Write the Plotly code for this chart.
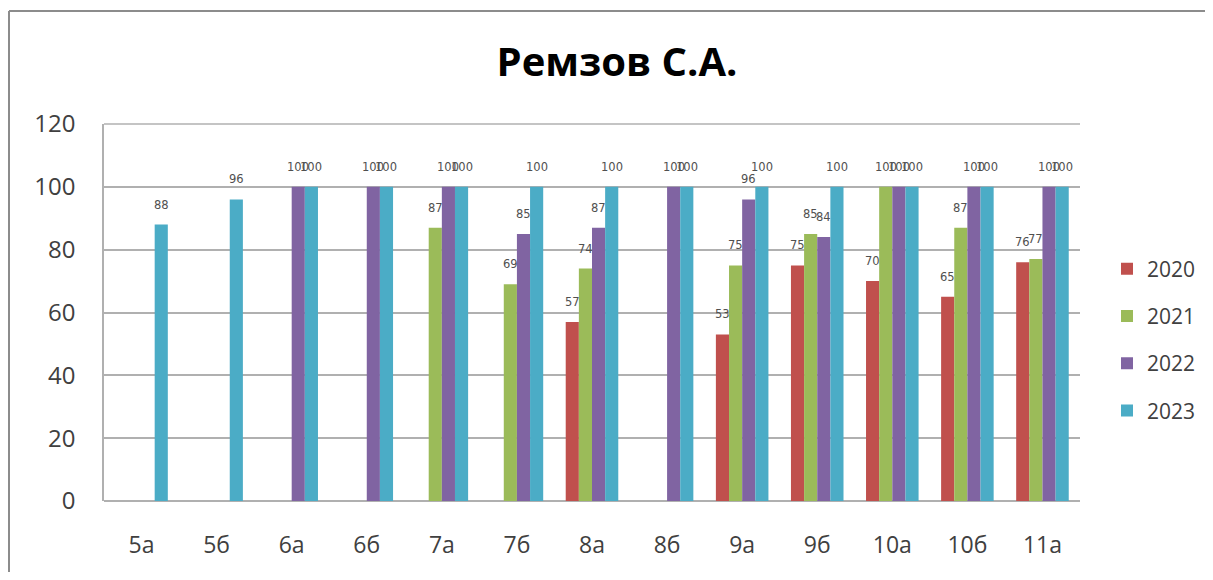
import plotly.graph_objects as go

categories = ["5а", "5б", "6а", "6б", "7а", "7б", "8а", "8б", "9а", "9б", "10а", "10б", "11а"]
years = ["2020", "2021", "2022", "2023"]
v2020 = [None, None, None, None, None, None, 57, None, 53, 75, 70, 65, 76]
v2021 = [None, None, None, None, 87, 69, 74, None, 75, 85, 100, 87, 77]
v2022 = [None, None, 100, 100, 100, 85, 87, 100, 96, 84, 100, 100, 100]
v2023 = [88, 96, 100, 100, 100, 100, 100, 100, 100, 100, 100, 100, 100]
colors = ["#C0504D", "#9BBB59", "#8064A2", "#4BACC6"]

OFF = 8  # page body margin
W, H = 1213 - 2 * OFF, 580 - 2 * OFF
L, R, T, B = 104 - OFF, 1080 - OFF, 124 - OFF, 501 - OFF
BARGAP = 0.3

def px_x(p):
    return (p - OFF - L) / (R - L)

def px_y(p):
    return (B - (p - OFF)) / (B - T)

series = [v2020, v2021, v2022, v2023]
fig = go.Figure()
annotations = []
n = len(series)
bw = (1 - BARGAP) / n
for k, (name, vals, col) in enumerate(zip(years, series, colors)):
    fig.add_trace(go.Bar(
        x=categories, y=vals, name=name, legendgroup=name,
        marker=dict(color=col, line=dict(width=0)),
    ))
    for i, v in enumerate(vals):
        if v is None:
            continue
        annotations.append(dict(
            x=i + (k - (n - 1) / 2) * bw, y=v, xref="x", yref="y",
            text=str(v), showarrow=False, yshift=20,
            font=dict(size=11.5, color="#505050", family="DejaVu Sans"),
        ))

fig.update_layout(
    width=W, height=H,
    margin=dict(l=L, r=W - R, t=T, b=H - B, autoexpand=False),
    paper_bgcolor="white", plot_bgcolor="white",
    barmode="group", bargap=BARGAP, bargroupgap=0,
    title=dict(text="<b>Ремзов С.А.</b>", xref="container", x=(617 - OFF) / W,
               xanchor="center", y=1 - (62 - OFF) / H, yanchor="middle",
               font=dict(size=40, family="Open Sans", color="black")),
    font=dict(family="Open Sans", color="#404040"),
    showlegend=True,
    legend=dict(x=px_x(1107), xanchor="left", y=px_y(340), yanchor="middle",
                font=dict(size=21, color="#404040", family="Open Sans"),
                traceorder="grouped", tracegroupgap=17, itemwidth=30,
                bgcolor="rgba(0,0,0,0)"),
    xaxis=dict(tickfont=dict(size=23, color="#404040"), showgrid=False,
               showline=False, ticks="", ticklabelstandoff=28),
    yaxis=dict(range=[0, 120], dtick=20, showgrid=True, gridcolor="#B0B0B0",
               gridwidth=1.5, showline=True, linecolor="#B0B0B0", linewidth=1.5,
               zeroline=True, zerolinecolor="#B0B0B0", zerolinewidth=1.5,
               tickfont=dict(size=24, color="#404040"), ticks="",
               ticklabelstandoff=22),
    annotations=annotations,
    shapes=[
        dict(type="line", xref="paper", yref="paper",
             x0=px_x(9), x1=px_x(9), y0=px_y(640), y1=px_y(11),
             line=dict(color="#8C8C8C", width=2), layer="below"),
        dict(type="line", xref="paper", yref="paper",
             x0=px_x(9), x1=px_x(1260), y0=px_y(11), y1=px_y(11),
             line=dict(color="#8C8C8C", width=2), layer="below"),
        dict(type="line", xref="paper", yref="paper",
             x0=0, x1=1, y0=1, y1=1, line=dict(color="#B0B0B0", width=1.5)),
    ],
)

fig.write_html("out.html")
